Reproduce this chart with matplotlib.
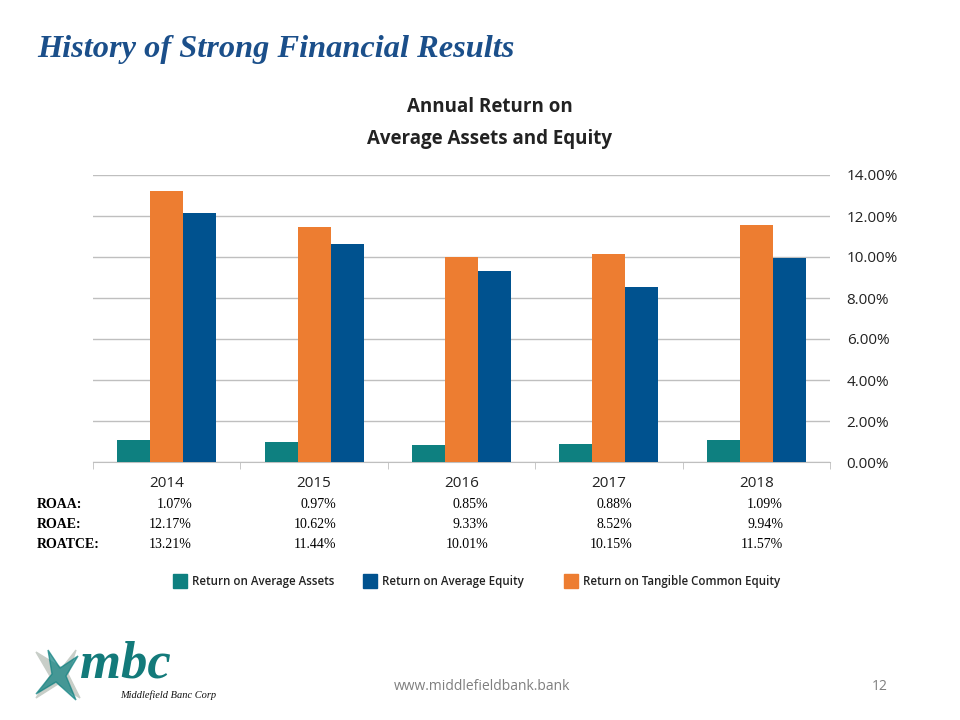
import matplotlib.pyplot as plt
import numpy as np
from matplotlib.patches import Polygon, Rectangle

years = ['2014', '2015', '2016', '2017', '2018']
roaa = [1.07, 0.97, 0.85, 0.88, 1.09]
roae = [12.17, 10.62, 9.33, 8.52, 9.94]
roatce = [13.21, 11.44, 10.01, 10.15, 11.57]

teal = '#0E8080'
orange = '#ED7D31'
blue = '#00528F'
navy = '#1B4F8A'

fig = plt.figure(figsize=(9.6, 7.2), dpi=100)

# slide title
fig.text(37 / 960, 1 - 49 / 720, 'History of Strong Financial Results', family='Liberation Serif',
         weight='bold', style='italic', fontsize=23.3, color=navy, va='center', ha='left')

# chart title
fig.text(490 / 960, 1 - 123 / 720, 'Annual Return on\nAverage Assets and Equity', family='Open Sans',
         weight='bold', fontsize=13.5, ha='center', va='center', linespacing=1.75, color='#222222')

ax = fig.add_axes([93 / 960, 1 - 462 / 720, 737 / 960, 287 / 720])
x = np.arange(len(years))
w = 0.224
ax.bar(x - w, roaa, w, color=teal, zorder=3)
ax.bar(x, roatce, w, color=orange, zorder=3)
ax.bar(x + w, roae, w, color=blue, zorder=3)

ax.set_xlim(-0.5, len(years) - 0.5)
ax.set_ylim(0, 14)
ax.set_yticks(np.arange(0, 15, 2))
ax.set_yticklabels([f'{v:.2f}%' for v in np.arange(0, 15, 2)], family='Open Sans', fontsize=11)
ax.yaxis.tick_right()
ax.tick_params(axis='y', length=0, pad=12, colors='#222222')
ax.grid(axis='y', color='#BFBFBF', lw=1, zorder=0)
ax.set_xticks(x)
ax.set_xticklabels(years, family='Open Sans', fontsize=11)
ax.tick_params(axis='x', length=0, pad=10, colors='#222222')
ax.set_xticks(np.arange(-0.5, len(years)), minor=True)
ax.tick_params(axis='x', which='minor', length=5, color='#BFBFBF', direction='out')
for s in ['top', 'left', 'right']:
    ax.spines[s].set_visible(False)
ax.spines['bottom'].set_color('#BFBFBF')

# data table under the chart
rows = [('ROAA:', roaa), ('ROAE:', roae), ('ROATCE:', roatce)]
row_y = [504, 524, 545]
col_right = [192, 336, 488, 632, 783]
for (lab, vals), yy in zip(rows, row_y):
    fig.text(37 / 960, 1 - yy / 720, lab, family='Liberation Serif', weight='bold', fontsize=10,
             va='center', ha='left')
    for v, xr in zip(vals, col_right):
        fig.text(xr / 960, 1 - yy / 720, f'{v:.2f}%', family='Liberation Serif', fontsize=10,
                 va='center', ha='right')

# legend
leg = [(teal, 'Return on Average Assets', 173), (blue, 'Return on Average Equity', 363),
       (orange, 'Return on Tangible Common Equity', 564)]
for c, lab, xx in leg:
    fig.patches.append(Rectangle((xx / 960, 1 - 588 / 720), 14 / 960, 14 / 720, color=c,
                                 transform=fig.transFigure))
    fig.text((xx + 19) / 960, 1 - 581 / 720, lab, family='Open Sans', weight='semibold',
             fontsize=8.3, va='center', ha='left', color='#222222')

# logo
lx = [(36, 652), (62, 668), (76, 650), (68, 674), (80, 698), (58, 684), (36, 698), (50, 676)]
fig.patches.append(Polygon([(a / 960, 1 - b / 720) for a, b in lx], closed=True, color='#C8CEC8',
                           transform=fig.transFigure))
lx2 = [(48, 650), (60, 668), (78, 656), (66, 676), (76, 700), (56, 682), (36, 694), (52, 674)]
fig.patches.append(Polygon([(a / 960, 1 - b / 720) for a, b in lx2], closed=True, color=teal,
                           alpha=0.7, transform=fig.transFigure))
fig.text(80 / 960, 1 - 664 / 720, 'mbc', family='Liberation Serif', weight='bold', style='italic',
         fontsize=38, color='#137A7A', va='center', ha='left')
fig.text(120 / 960, 1 - 695 / 720, 'Middlefield Banc Corp', family='Liberation Serif', style='italic',
         fontsize=7.5, color='#111111', va='center', ha='left')

# footer
fig.text(482 / 960, 1 - 687 / 720, 'www.middlefieldbank.bank', family='Open Sans', fontsize=10,
         color='#7F7F7F', va='center', ha='center')
fig.text(880 / 960, 1 - 687 / 720, '12', family='Open Sans', fontsize=10, color='#7F7F7F',
         va='center', ha='center')

fig.savefig('out.png', dpi=100)
